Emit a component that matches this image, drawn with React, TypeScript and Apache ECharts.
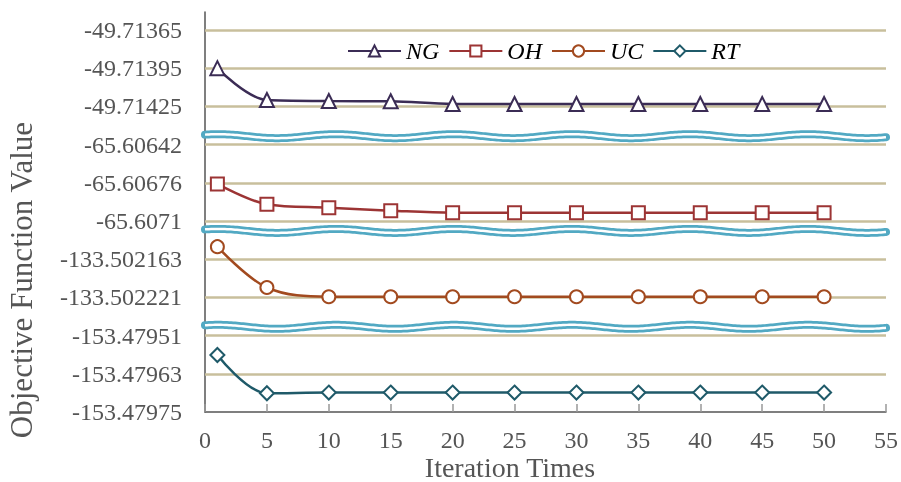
import React, { useEffect, useRef } from "react";
import * as echarts from "echarts";

const xValues = [1, 5, 10, 15, 20, 25, 30, 35, 40, 45, 50];
const seriesNames = ["NG", "OH", "UC", "RT"];
const ngValues = [-49.71395, -49.7142, -49.714208, -49.71421, -49.714231, -49.714231, -49.714231, -49.714231, -49.714231, -49.714231, -49.714231];
const ohValues = [-65.60677, -65.606951, -65.606982, -65.607008, -65.607026, -65.607026, -65.607026, -65.607026, -65.607026, -65.607026, -65.607026];
const ucValues = [-133.502144, -133.502206, -133.50222, -133.50222, -133.50222, -133.50222, -133.50222, -133.50222, -133.50222, -133.50222, -133.50222];
const rtValues = [-153.479571, -153.479691, -153.479689, -153.479689, -153.479689, -153.479689, -153.479689, -153.479689, -153.479689, -153.479689, -153.479689];

// y tick labels from bottom (slot 0) to top (slot 10)
const yTickLabels = [
  "-153.47975", "-153.47963", "-153.47951",
  "-133.502221", "-133.502163",
  "-65.6071", "-65.60676", "-65.60642",
  "-49.71425", "-49.71395", "-49.71365",
];
// each broken-axis panel: slot of its lowest tick, value of that tick, value per slot
const panelBaseSlot = [8, 5, 3, 0];
const panelBaseValue = [-49.71425, -65.6071, -133.502221, -153.47975];
const panelStep = [0.0003, 0.00034, 0.000058, 0.00012];
const breakSlots = [7.22, 4.74, 2.23];
const gridSlots = [1, 2, 3, 4, 5, 6, 7, 8, 9, 10];

const colors = ["#3b2c55", "#9c3434", "#a24a1f", "#1f5a69"];
const symbols = ["triangle", "rect", "circle", "diamond"];
const symbolSizes = [14, 13, 13, 14];
const allValues = [ngValues, ohValues, ucValues, rtValues];

const FONT = "'Liberation Serif', 'Times New Roman', serif";

export default function App() {
  const ref = useRef<HTMLDivElement>(null);
  useEffect(() => {
    if (!ref.current) return;
    const chart = echarts.init(ref.current, undefined, { renderer: "svg" });

    const lineSeries = allValues.map((vals, i) => ({
      name: seriesNames[i],
      type: "line",
      smooth: 0.35,
      z: 5,
      data: vals.map((v, j) => [
        xValues[j],
        panelBaseSlot[i] + (v - panelBaseValue[i]) / panelStep[i],
      ]),
      symbol: symbols[i],
      symbolSize: symbolSizes[i],
      showAllSymbol: true,
      lineStyle: { color: colors[i], width: 2.5 },
      itemStyle: { color: "#ffffff", borderColor: colors[i], borderWidth: 2 },
    }));

    const option: any = {
      animation: false,
      grid: { left: 205, right: 15, top: 12, bottom: 70, outerBoundsMode: "none", containLabel: false },
      legend: {
        data: seriesNames,
        left: 342,
        top: 34,
        itemWidth: 53,
        itemHeight: 14,
        itemGap: 9,
        textStyle: { fontFamily: FONT, fontStyle: "italic", fontSize: 24, color: "#000" },
      },
      graphic: [
        {
          type: "text",
          x: 510,
          y: 467,
          style: {
            text: "Iteration Times",
            fontFamily: FONT,
            fontSize: 28,
            fill: "#555",
            align: "center",
            verticalAlign: "middle",
          },
        },
        {
          type: "text",
          x: 21,
          y: 280,
          rotation: Math.PI / 2,
          style: {
            text: "Objective Function Value",
            fontFamily: FONT,
            fontSize: 31,
            fill: "#555",
            align: "center",
            verticalAlign: "middle",
          },
        },
      ],
      xAxis: {
        type: "value",
        min: 0,
        max: 55,
        interval: 5,
        axisLine: { show: true, lineStyle: { color: "#555", width: 1.5 } },
        axisTick: { show: true, inside: true, length: 8, lineStyle: { color: "#999", width: 1.5 } },
        axisLabel: { fontFamily: FONT, fontSize: 24, color: "#555", margin: 16 },
        splitLine: { show: false },
      },
      yAxis: {
        type: "value",
        min: 0,
        max: 10.47,
        interval: 1,
        axisLine: { show: true, lineStyle: { color: "#555", width: 1.5 } },
        axisTick: { show: false },
        axisLabel: {
          fontFamily: FONT,
          fontSize: 24,
          color: "#555",
          margin: 23,
          formatter: (v: number) => {
            const r = Math.round(v);
            return Math.abs(v - r) < 1e-6 && r >= 0 && r < yTickLabels.length ? yTickLabels[r] : "";
          },
        },
        splitLine: { show: false },
      },
      series: [
        {
          name: "gridlines",
          type: "line",
          data: [],
          z: 1,
          markLine: {
            silent: true,
            symbol: "none",
            label: { show: false },
            lineStyle: { color: "#c8bf9c", width: 2.5, type: "solid" },
            data: gridSlots.map((s) => ({ yAxis: s })),
          },
        },
        {
          name: "breaks",
          type: "custom",
          z: 3,
          clip: false,
          data: breakSlots.map((s) => [0, s]),
          renderItem: (params: any, api: any) => {
            const cs = params.coordSys;
            const yPx = api.coord([0, api.value(1)])[1];
            const x0 = cs.x;
            const x1 = cs.x + cs.width;
            const pts: number[][] = [];
            for (let x = x0; x <= x1; x += 2) {
              pts.push([x, yPx - 2 * Math.cos((2 * Math.PI * (x - x0 - 13)) / 118)]);
            }
            pts.push([x1, yPx - 2 * Math.cos((2 * Math.PI * (x1 - x0 - 13)) / 118)]);
            return {
              type: "group",
              children: [
                { type: "polyline", shape: { points: pts }, style: { stroke: "#52a9c3", lineWidth: 8, fill: "none", lineCap: "round" } },
                { type: "polyline", shape: { points: pts }, style: { stroke: "#ffffff", lineWidth: 2.5, fill: "none" } },
              ],
            };
          },
        },
        ...lineSeries,
      ],
    };
    chart.setOption(option);
    return () => chart.dispose();
  }, []);
  return <div ref={ref} style={{ position: "fixed", left: 0, top: 0, width: 901, height: 482 }} />;
}
